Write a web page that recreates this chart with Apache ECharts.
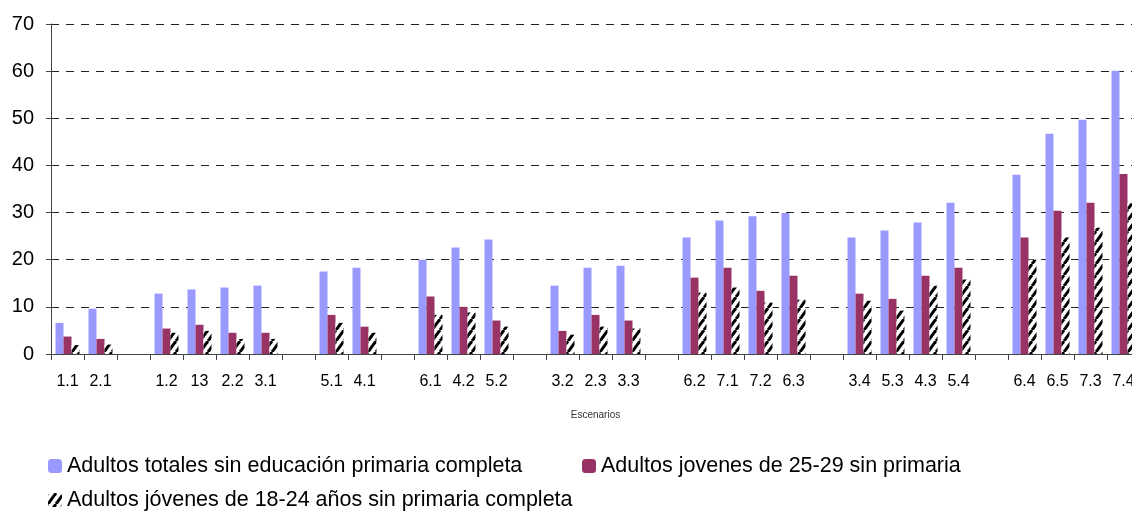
<!DOCTYPE html>
<html>
<head>
<meta charset="utf-8">
<title>Escenarios</title>
<script src="https://cdn.jsdelivr.net/npm/echarts@6/dist/echarts.min.js"></script>
<style>
  html, body { margin: 0; padding: 0; background: #fff; }
  #chart { width: 1132px; height: 513px; }
</style>
</head>
<body>
<div id="chart"></div>
<script>
// escenarios ('' = hueco entre grupos)
var categories = ['1.1', '2.1', '', '1.2', '13', '2.2', '3.1', '', '5.1', '4.1', '',
  '6.1', '4.2', '5.2', '', '3.2', '2.3', '3.3', '', '6.2', '7.1', '7.2', '6.3', '',
  '3.4', '5.3', '4.3', '5.4', '', '6.4', '6.5', '7.3', '7.4']

var adultosTotales = [6.6, 9.6, null, 12.8, 13.7, 14.1, 14.5, null, 17.5, 18.3, null,
  20.0, 22.6, 24.3, null, 14.5, 18.3, 18.7, null, 24.7, 28.3, 29.2, 29.9, null,
  24.7, 26.2, 27.9, 32.1, null, 38.0, 46.7, 49.7, 60.1]

var jovenes2529 = [3.7, 3.2, null, 5.4, 6.2, 4.5, 4.5, null, 8.3, 5.8, null,
  12.2, 10.0, 7.1, null, 4.9, 8.3, 7.1, null, 16.2, 18.3, 13.4, 16.6, null,
  12.8, 11.7, 16.6, 18.3, null, 24.7, 30.4, 32.1, 38.2]

var jovenes1824 = [1.9, 2.0, null, 4.5, 4.9, 3.2, 3.2, null, 6.6, 4.5, null,
  8.3, 8.8, 5.8, null, 4.1, 5.8, 5.4, null, 13.0, 14.1, 10.9, 11.5, null,
  11.3, 9.2, 14.5, 15.8, null, 20.0, 24.7, 26.8, 32.0]

var yTicks = [0, 10, 20, 30, 40, 50, 60, 70]

var seriesNames = [
  'Adultos totales sin educación primaria completa',
  'Adultos jovenes de 25-29 sin primaria',
  'Adultos jóvenes de 18-24 años sin primaria completa'
]

var fontFamily = '"Liberation Sans", Arial, sans-serif'

// trama de rayas diagonales continuas (tile 8x11)
function makeHatch() {
  var w = 8, h = 11
  var c = document.createElement('canvas')
  c.width = w
  c.height = h
  var ctx = c.getContext('2d')
  ctx.fillStyle = '#fff'
  ctx.fillRect(0, 0, w, h)
  ctx.strokeStyle = '#000'
  ctx.lineWidth = 3
  ;[-w, 0, w].forEach(function(dx) {
    ctx.beginPath()
    ctx.moveTo(dx, h)
    ctx.lineTo(dx + w, 0)
    ctx.stroke()
  })
  return c
}

var chart = echarts.init(document.getElementById('chart'))

function legendAt(name, left, top) {
  return {
    data: [name],
    left: left,
    top: top,
    padding: 0,
    itemWidth: 14,
    itemHeight: 14,
    itemStyle: { borderWidth: 0 },
    textStyle: { fontSize: 21.5, color: '#000', fontFamily: fontFamily },
    selectedMode: false
  }
}

chart.setOption({
  animation: false,
  backgroundColor: '#fff',
  grid: {
    left: 51,
    width: 1089,
    top: 24,
    bottom: 159,
    outerBoundsMode: 'none'
  },
  legend: [
    legendAt(seriesNames[0], 48, 455),
    legendAt(seriesNames[1], 582, 455),
    legendAt(seriesNames[2], 48, 489)
  ],
  xAxis: {
    type: 'category',
    data: categories,
    name: 'Escenarios',
    nameLocation: 'middle',
    nameGap: 56,
    nameTextStyle: { fontSize: 10, color: '#333', fontFamily: fontFamily },
    axisLine: { lineStyle: { color: '#444', width: 1 } },
    axisTick: { show: true, length: 6, lineStyle: { color: '#444' } },
    axisLabel: {
      interval: 0,
      margin: 20,
      fontSize: 16,
      color: '#000',
      fontFamily: fontFamily
    }
  },
  yAxis: {
    type: 'value',
    min: yTicks[0],
    max: yTicks[yTicks.length - 1],
    interval: 10,
    axisLine: { show: true, lineStyle: { color: '#444', width: 1 } },
    axisTick: { show: true, length: 5, lineStyle: { color: '#444' } },
    axisLabel: {
      margin: 17,
      fontSize: 20,
      color: '#000',
      fontFamily: fontFamily
    },
    splitLine: {
      show: true,
      lineStyle: { color: '#222', type: [8, 7], width: 1 }
    }
  },
  series: [{
    name: seriesNames[0],
    type: 'bar',
    data: adultosTotales,
    barWidth: 8,
    barGap: '0%',
    itemStyle: { color: '#9999ff' }
  }, {
    name: seriesNames[1],
    type: 'bar',
    data: jovenes2529,
    barWidth: 8,
    barGap: '0%',
    itemStyle: { color: '#993366' }
  }, {
    name: seriesNames[2],
    type: 'bar',
    data: jovenes1824,
    barWidth: 8,
    barGap: '0%',
    itemStyle: { color: { image: makeHatch(), repeat: 'repeat' } }
  }]
})
</script>
</body>
</html>
